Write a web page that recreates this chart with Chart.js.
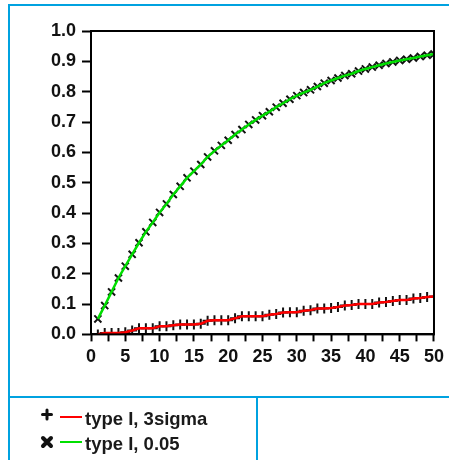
<!DOCTYPE html>
<html>
<head>
<meta charset="utf-8">
<script src="https://cdn.jsdelivr.net/npm/chart.js@4.4.0/dist/chart.umd.min.js"></script>
<style>
  html, body { margin: 0; padding: 0; background: #fff; }
  body { width: 449px; height: 460px; position: relative; overflow: hidden; font-family: "Liberation Sans", Arial, sans-serif; }
  .rule { position: absolute; background: #00a2e0; }
  #plot { position: absolute; left: 10px; top: 6px; width: 439px; height: 390px; }
  .legend { position: absolute; left: 40px; font-weight: bold; font-size: 18.5px; color: #1a1a1a; }
  .legend .row { position: absolute; white-space: nowrap; height: 22px; }
  .legend .mark { position: absolute; left: 0; top: 0; width: 14px; height: 20px; }
  .legend .swatch { position: absolute; left: 20px; top: 8px; width: 22px; height: 2px; }
  .legend .label { position: absolute; left: 45px; top: 0; line-height: 22px; }
</style>
</head>
<body>
<div class="rule" style="left:8px;top:4px;width:441px;height:2px"></div>
<div class="rule" style="left:8px;top:4px;width:2px;height:456px"></div>
<div class="rule" style="left:8px;top:396px;width:441px;height:2px"></div>
<div class="rule" style="left:256px;top:396px;width:2px;height:64px"></div>

<div id="plot"><canvas id="chart" width="439" height="390"></canvas></div>

<div class="legend">
  <div class="row" style="top:408px">
    <canvas class="mark" id="mk1" width="14" height="20"></canvas>
    <div class="swatch" style="background:#ff0000"></div>
    <div class="label">type I, 3sigma</div>
  </div>
  <div class="row" style="top:433px">
    <canvas class="mark" id="mk2" width="14" height="20"></canvas>
    <div class="swatch" style="background:#00e000"></div>
    <div class="label">type I, 0.05</div>
  </div>
</div>

<script>
// sample size n = 1..50
const nValues = Array.from({ length: 50 }, (_, i) => i + 1);

// rejection rate with 3 sigma limits
const rate3Sigma = [
  0.000, 0.005, 0.005, 0.005, 0.007, 0.013, 0.020, 0.020, 0.020, 0.027,
  0.027, 0.030, 0.033, 0.033, 0.033, 0.035, 0.045, 0.047, 0.047, 0.047,
  0.053, 0.060, 0.060, 0.060, 0.060, 0.065, 0.067, 0.072, 0.073, 0.073,
  0.078, 0.080, 0.085, 0.085, 0.087, 0.090, 0.095, 0.097, 0.100, 0.100,
  0.100, 0.105, 0.107, 0.110, 0.113, 0.113, 0.118, 0.120, 0.123, 0.125
];

// rejection rate at alpha = 0.05
const rate005 = [
  0.051, 0.095, 0.140, 0.186, 0.225, 0.264, 0.302, 0.338, 0.369, 0.402,
  0.430, 0.461, 0.488, 0.516, 0.538, 0.560, 0.585, 0.605, 0.623, 0.640,
  0.659, 0.675, 0.692, 0.707, 0.721, 0.734, 0.749, 0.762, 0.775, 0.787,
  0.797, 0.806, 0.817, 0.828, 0.837, 0.845, 0.853, 0.859, 0.868, 0.875,
  0.881, 0.887, 0.893, 0.898, 0.903, 0.907, 0.911, 0.916, 0.920, 0.924
];

const yTicks = [0, 0.1, 0.2, 0.3, 0.4, 0.5, 0.6, 0.7, 0.8, 0.9, 1.0];

const toPoints = (ys) => nValues.map((n, i) => ({ x: n, y: ys[i] }));

const tickFont = { family: "'Liberation Sans', Arial, sans-serif", size: 18, weight: 'bold' };

// box round the plot area
const frame = {
  id: 'frame',
  afterDraw(chart) {
    const { ctx, chartArea: a } = chart;
    ctx.save();
    ctx.strokeStyle = '#000';
    ctx.lineWidth = 2;
    ctx.strokeRect(a.left, a.top, a.right - a.left, a.bottom - a.top);
    ctx.restore();
  }
};

// markers go in their own datasets so the lines sit on top of them
const markerSet = (ys, style, radius) => ({
  data: toPoints(ys),
  showLine: false,
  pointStyle: style,
  pointRadius: radius,
  pointBorderColor: '#111',
  pointBorderWidth: 2,
  order: 2
});

const lineSet = (ys, color) => ({
  data: toPoints(ys),
  borderColor: color,
  borderWidth: 2.5,
  pointRadius: 0,
  tension: 0,
  order: 1
});

new Chart(document.getElementById('chart'), {
  type: 'line',
  data: {
    datasets: [
      markerSet(rate3Sigma, 'cross', 5),
      markerSet(rate005, 'crossRot', 5),
      lineSet(rate3Sigma, '#ff0000'),
      lineSet(rate005, '#00dd00')
    ]
  },
  plugins: [frame],
  options: {
    responsive: false,
    animation: false,
    layout: { padding: { top: 25, right: 5, bottom: 23, left: 0 } },
    plugins: { legend: { display: false }, tooltip: { enabled: false } },
    scales: {
      x: {
        type: 'linear',
        min: 0,
        max: 50,
        grid: { drawOnChartArea: false, tickLength: 7, tickColor: '#000', tickWidth: 2 },
        border: { color: '#000', width: 2 },
        ticks: {
          stepSize: 2.5,
          autoSkip: false,
          maxRotation: 0,
          color: '#111',
          font: tickFont,
          padding: 5,
          callback: (v) => (v % 5 === 0 ? String(v) : '')
        }
      },
      y: {
        min: 0,
        max: 1,
        afterBuildTicks: (scale) => { scale.ticks = yTicks.map(v => ({ value: v })); },
        afterFit: (scale) => { scale.width = 81; },
        grid: { drawOnChartArea: false, tickLength: 9, tickColor: '#000', tickWidth: 2 },
        border: { color: '#000', width: 2 },
        ticks: { color: '#111', font: tickFont, padding: 6, callback: (v) => v.toFixed(1) }
      }
    }
  }
});

// legend marker glyphs
function drawMark(id, kind) {
  const c = document.getElementById(id).getContext('2d');
  c.strokeStyle = '#111';
  c.lineCap = 'round';
  c.beginPath();
  if (kind === 'plus') {
    c.lineWidth = 3;
    c.moveTo(7, 2); c.lineTo(7, 11);
    c.moveTo(2.5, 6.5); c.lineTo(11.5, 6.5);
  } else {
    c.lineWidth = 4;
    c.moveTo(3, 5); c.lineTo(11, 13);
    c.moveTo(11, 5); c.lineTo(3, 13);
  }
  c.stroke();
}
drawMark('mk1', 'plus');
drawMark('mk2', 'x');
</script>
</body>
</html>
